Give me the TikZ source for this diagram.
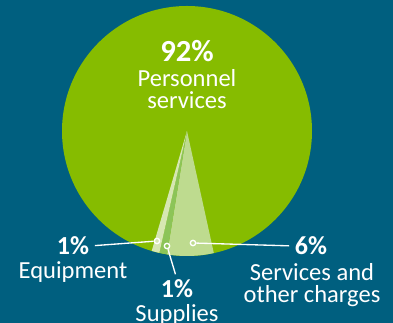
\documentclass[tikz,border=0pt]{standalone}
\usepackage{fontspec}
\setmainfont{Carlito}
\definecolor{bgteal}{RGB}{0,95,127}
\definecolor{piegreen}{RGB}{134,188,0}
\definecolor{svclight}{RGB}{190,219,143}
\definecolor{supgreen}{RGB}{140,196,88}
\definecolor{eqlight}{RGB}{214,231,178}

\tikzset{every picture/.style={line width=0.75pt}}

\begin{document}
\begin{tikzpicture}[x=0.75pt,y=0.75pt,yscale=-1,xscale=1,
  pct/.style={text=white,inner sep=0pt,font=\bfseries\fontsize{19.5}{19.5}\selectfont},
  bigpct/.style={pct,font=\bfseries\fontsize{23}{23}\selectfont},
  lbl/.style={text=white,align=center,inner sep=0pt,font=\fontsize{18.4}{16.5}\selectfont},
  dot/.style={circle,draw=white,line width=1pt,inner sep=0pt,minimum size=4pt},
  lead/.style={draw=white,line width=1pt,shorten >=4pt}]
\useasboundingbox (0,0) rectangle (393,323);
\fill[bgteal] (0,0) rectangle (393,323);

%Shape: Circle
\fill[piegreen] (187,131) circle (125);
%Shape: Sector (services)
\fill[svclight] (187,131) -- ++(77.6:125) arc (77.6:99.2:125) -- cycle;
%Shape: Sector (supplies)
\fill[supgreen] (187,131) -- ++(99.2:125) arc (99.2:102.8:125) -- cycle;
%Shape: Sector (equipment)
\fill[eqlight] (187,131) -- ++(102.8:125) arc (102.8:106.4:125) -- cycle;

% Text Node
\node[bigpct] (perspct) at (187,51) {92\%};
\node[lbl] (persname) at (187,89) {Personnel\\services};
% Text Node
\node[pct] (eqpct) at (73,246) {1\%};
\node[lbl] (eqname) at (73,272) {Equipment};
% Text Node
\node[pct] (suppct) at (177,289) {1\%};
\node[lbl] (supname) at (177,315) {Supplies};
% Text Node
\node[pct] (svcpct) at (311,246) {6\%};
\node[lbl] (svcname) at (312,285) {Services and\\other charges};

%Dots
\node[dot,fill=eqlight] (eqdot) at (157,241) {};
\node[dot,fill=supgreen] (supdot) at (167,246) {};
\node[dot,fill=svclight] (svcdot) at (193,243) {};

%Straight Lines
\draw[lead] (eqdot) -- (eqpct.east);
\draw[lead] (supdot) -- (suppct.north);
\draw[lead] (svcdot) -- (svcpct.west);

\end{tikzpicture}
\end{document}
